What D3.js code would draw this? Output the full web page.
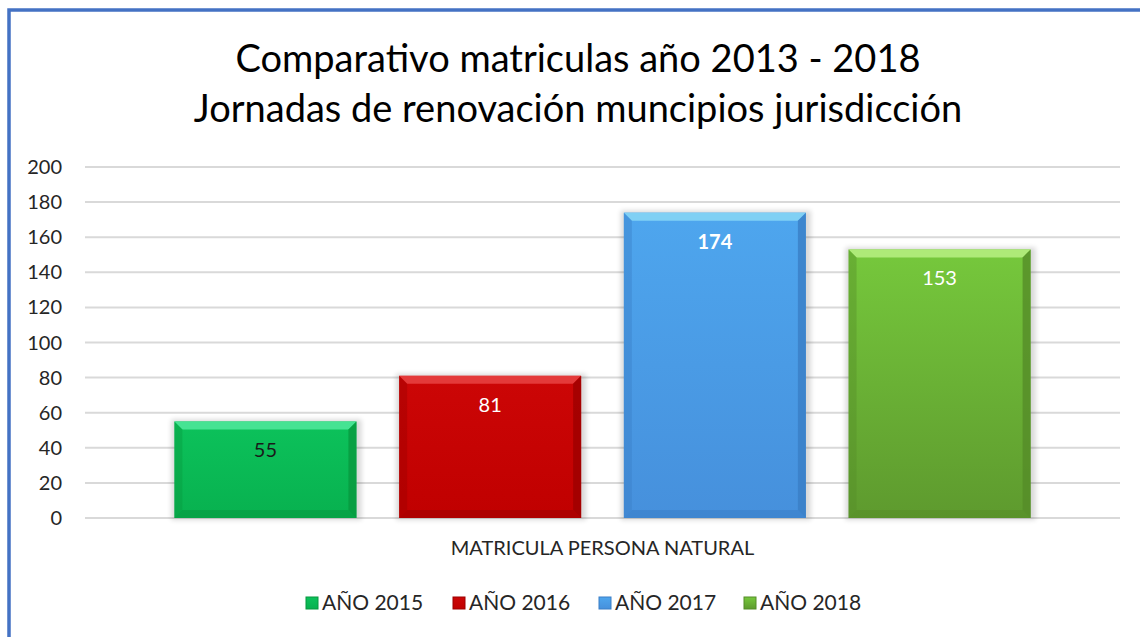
<!DOCTYPE html>
<html>
<head>
<meta charset="utf-8">
<script src="https://cdn.jsdelivr.net/npm/d3@7"></script>
<style>
  body { margin: 0; background: #fff; }
  svg { display: block; font-family: Lato, "Open Sans", sans-serif; }
</style>
</head>
<body>
<svg id="chart"></svg>
<script>
const categories = ["MATRICULA PERSONA NATURAL"];
const seriesNames = ["AÑO 2015", "AÑO 2016", "AÑO 2017", "AÑO 2018"];
const seriesValues = [55, 81, 174, 153];
const yTicks = [0, 20, 40, 60, 80, 100, 120, 140, 160, 180, 200];
const titleLines = ["Comparativo matriculas año 2013 - 2018", "Jornadas de renovación muncipios jurisdicción"];

// gradient top/bottom, top bevel, side bevel, label colour
const palette = [
  { top: "#0cc25b", bot: "#08b14f", hi: "#46e393", side: "#07983f", label: "#1a1a1a" },
  { top: "#cc0606", bot: "#c00000", hi: "#e43a3a", side: "#9c0000", label: "#ffffff" },
  { top: "#4ea6ee", bot: "#4690dc", hi: "#80d0f4", side: "#3a7ec6", label: "#ffffff" },
  { top: "#76c83c", bot: "#5e9a2e", hi: "#aeea78", side: "#558c28", label: "#ffffff" }
];

const width = 1140, height = 637;
const svg = d3.select("#chart").attr("width", width).attr("height", height);

// chart frame (cropped: only top and left edges show)
svg.append("rect").attr("x", 9).attr("y", 10).attr("width", 1200).attr("height", 700)
  .attr("fill", "#fff").attr("stroke", "#4472c4").attr("stroke-width", 3.5);

const plot = { left: 85, right: 1120, top: 167, bottom: 518 };

const y = d3.scaleLinear().domain([0, 200]).range([plot.bottom, plot.top]);
const x0 = d3.scaleBand().domain(categories).range([plot.left, plot.right]).paddingOuter(0.0757);
const x1 = d3.scaleBand().domain(seriesNames).range([0, x0.bandwidth()])
  .paddingInner(0.19).paddingOuter(0.095);

const defs = svg.append("defs");
palette.forEach((c, i) => {
  const g = defs.append("linearGradient").attr("id", "grad" + i)
    .attr("x1", 0).attr("y1", 0).attr("x2", 0).attr("y2", 1);
  g.append("stop").attr("offset", "0%").attr("stop-color", c.top);
  g.append("stop").attr("offset", "100%").attr("stop-color", c.bot);
});
const f = defs.append("filter").attr("id", "shadow").attr("x", "-10%").attr("y", "-10%")
  .attr("width", "120%").attr("height", "120%");
f.append("feGaussianBlur").attr("stdDeviation", 2.5);

// gridlines
svg.append("g").selectAll("line").data(yTicks).join("line")
  .attr("x1", plot.left).attr("x2", plot.right)
  .attr("y1", d => y(d)).attr("y2", d => y(d))
  .attr("stroke", "#d9d9d9").attr("stroke-width", 2);

// y axis labels
svg.append("g").selectAll("text").data(yTicks).join("text")
  .attr("x", 62).attr("y", d => y(d)).attr("dy", "0.35em")
  .attr("text-anchor", "end").attr("font-size", 20).attr("fill", "#262626")
  .text(d => d);

// title
svg.append("g").selectAll("text").data(titleLines).join("text")
  .attr("x", 578).attr("y", (d, i) => 72 + i * 50)
  .attr("text-anchor", "middle").attr("font-size", 38).attr("fill", "#000")
  .text(d => d);

// bars with bevel
const bev = 8;
const bars = svg.append("g").selectAll("g").data(seriesValues).join("g")
  .attr("transform", (d, i) => `translate(${x0(categories[0]) + x1(seriesNames[i])},0)`);

bars.each(function (d, i) {
  const g = d3.select(this);
  const w = x1.bandwidth(), t = y(d), b = y(0), c = palette[i];
  g.append("rect").attr("x", -3).attr("y", t - 2).attr("width", w + 8).attr("height", b - t + 4)
    .attr("fill", "#000").attr("opacity", 0.15).attr("filter", "url(#shadow)");
  g.append("rect").attr("x", 0).attr("y", t).attr("width", w).attr("height", b - t)
    .attr("fill", `url(#grad${i})`);
  g.append("polygon").attr("fill", c.hi)
    .attr("points", [[0, t], [w, t], [w - bev, t + bev], [bev, t + bev]].join(" "));
  g.append("polygon").attr("fill", c.side).attr("opacity", 0.4)
    .attr("points", [[0, t], [bev, t + bev], [bev, b - bev], [0, b]].join(" "));
  g.append("polygon").attr("fill", c.side).attr("opacity", 0.8)
    .attr("points", [[w, t], [w - bev, t + bev], [w - bev, b - bev], [w, b]].join(" "));
  g.append("polygon").attr("fill", c.side).attr("opacity", 0.55)
    .attr("points", [[0, b], [bev, b - bev], [w - bev, b - bev], [w, b]].join(" "));
  g.append("text").attr("x", w / 2).attr("y", t + 29).attr("dy", "0.35em")
    .attr("text-anchor", "middle").attr("font-size", 20).attr("fill", c.label)
    .attr("font-weight", i === 2 ? "bold" : "normal")
    .text(d);
});

// category axis label
svg.append("text").attr("x", x0(categories[0]) + x0.bandwidth() / 2).attr("y", 548)
  .attr("dy", "0.35em").attr("text-anchor", "middle").attr("font-size", 20).attr("fill", "#262626")
  .text(categories[0]);

// legend
const legendX = [306, 453, 599, 744];
const legend = svg.append("g").selectAll("g").data(seriesNames).join("g")
  .attr("transform", (d, i) => `translate(${legendX[i]},603)`);
legend.append("rect").attr("x", 0).attr("y", -6).attr("width", 12).attr("height", 12)
  .attr("fill", (d, i) => `url(#grad${i})`).attr("stroke", (d, i) => palette[i].side).attr("stroke-width", 1);
legend.append("text").attr("x", 16).attr("dy", "0.35em").attr("font-size", 21).attr("fill", "#262626")
  .text(d => d);
</script>
</body>
</html>
